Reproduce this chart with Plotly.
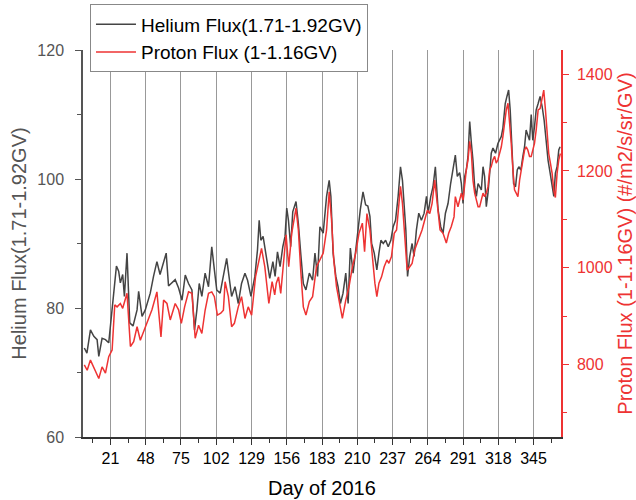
import plotly.graph_objects as go

# Helium flux (1.71-1.92 GV), day of 2016
he_day = [1, 3, 5.7, 8.3, 10.8, 12.1, 14.6, 17.2, 19.7, 23.5, 25.6, 27.3, 28.6, 30.4, 31.7, 33.7,
          35.8, 38.3, 41.4, 42.6, 45.2, 47.7, 51.5, 54, 56.6, 59, 63.7, 65.5, 70.6, 73.2,
          75.8, 78.3, 80.8, 83.4, 85.4, 87.2, 89, 91, 93.5, 96.1, 98.6, 100.6, 102.4, 105,
          107.5, 110, 111.8, 113.8, 116.4, 118.9, 121.4, 124, 126, 128.6, 131.6, 133.6, 134.9,
          136.2, 137.9, 140.5, 143, 145.4, 147.1, 148.9, 150.9, 153, 154.7, 156, 157.3, 159,
          160.6, 163.1, 164.9, 166.7, 168.7, 170.7, 173.3, 175.8, 177.6, 179.6, 181.4, 183.9,
          186.5, 188.5, 189.8, 191.5, 193.6, 195.3, 197.1, 199.1, 201.2, 203, 204.7, 206.8,
          208.8, 210.6, 212.3, 214.4, 216.4, 218.1, 219.7, 221, 223, 225, 226.6, 228.1, 229.9,
          231.7, 233.7, 235.7, 237.5, 239.3, 241.3, 243.1, 244.6, 245.9, 247.2, 248.5, 250.2,
          252, 253.5, 255.3, 257.1, 259.1, 261.2, 263, 264.2, 266.3, 268, 269.8, 271.9, 273.9,
          275.7, 277.5, 279.5, 281.5, 283.3, 285.1, 286.6, 288.4, 289.7, 291, 292.3, 293.5,
          294.8, 296.1, 297.4, 298.6, 299.9, 301.2, 302.5, 303.7, 305, 306.3, 307.5, 308.8,
          310.1, 311.4, 312.6, 313.9, 315.9, 317.7, 319, 320.3, 321.5, 323.3, 324.6, 325.9,
          327.1, 328.4, 329.7, 331.2, 332.5, 333.7, 335.3, 336.8, 338.1, 339.3, 340.6, 341.9,
          343.2, 344.4, 345.7, 347, 348.5, 350, 351.6, 353.1, 354.6, 356.1, 357.7, 359.2,
          360.5, 361.7, 363, 364.3, 365.3]
he_flux = [73.8, 73.0, 76.6, 75.6, 75.1, 72.5, 75.3, 75.1, 74.6, 82.8, 86.5, 85.7, 83.9, 85.2, 81.8, 88.5,
           77.7, 77.2, 79.7, 82.6, 78.7, 79.7, 82.3, 84.9, 87.2, 85.2, 88.5, 83.4, 84.4, 83.1,
           81.2, 85.1, 83.8, 82.8, 76.6, 79.7, 83.8, 81.8, 85.4, 83.3, 89.5, 85.9, 82.8, 82.3,
           84.9, 87.7, 84.9, 81.8, 83.3, 80.7, 83.8, 85.4, 84.3, 81.8, 84.9, 89.0, 93.6,
           90.5, 91.1, 87.4, 84.6, 87.2, 84.9, 88.7, 86.4, 89.5, 91.1, 95.5, 93.6, 89.5,
           94.9, 96.5, 93.1, 88.5, 83.8, 82.8, 85.4, 84.3, 88.5, 84.9, 92.6, 91.6,
           97.3, 99.8, 97.3, 88.5, 84.9, 83.3, 80.7, 82.3, 85.4, 80.7, 89.3, 85.4,
           88.5, 92.1, 95.2, 98.0, 96.0, 95.8, 94.2, 90.0, 88.5, 85.9, 88.5, 90.5, 90.0,
           90.5, 89.5, 90.5, 92.6, 93.6, 97.3, 101.9, 99.8, 96.2, 92.1, 84.9, 88.0,
           90.0, 88.0, 92.1, 94.7, 93.6, 94.7, 97.3, 94.7, 97.3, 98.8, 101.9, 95.2, 92.6,
           91.6, 94.7, 96.2, 99.3, 101.9, 103.7, 100.4, 101.0, 99.3, 96.2, 100.4, 101.4,
           103.5, 108.9, 105.5, 102.9, 98.8, 97.3, 99.3, 98.8, 98.3, 101.9, 100.4, 95.7,
           97.8, 100.9, 104.0, 104.8, 104.0, 105.5, 106.0, 106.6, 107.9, 111.7, 112.8, 113.8,
           110.7, 105.5, 99.3, 98.8, 101.4, 101.9, 101.4, 103.5, 105.0, 107.6, 106.6, 106.0,
           110.0, 106.0, 108.1, 110.7, 111.7, 112.8, 111.2, 109.1, 106.0, 102.9, 100.9, 99.3,
           97.3, 100.9, 101.9, 104.5, 105.0]

# Proton flux (1-1.16 GV)
p_day = [1, 3.2, 5.7, 8.3, 12.1, 14.6, 17.2, 19.7, 22.3, 24.3, 26.1, 28.6, 30.4, 33.7, 36.3, 38.8,
         41.4, 43.9, 46.4, 49, 52.8, 56.6, 59.7, 61.7, 64.3, 66.8, 70.6, 73.2, 75.3, 77.8, 80.8,
         83.4, 85.9, 88.5, 91, 93.5, 96.1, 98.6, 100.6, 102.9, 105.5, 107.5, 108.8, 111.3, 113.8,
         115.9, 118.9, 121.4, 124, 126.5, 129.1, 132.1, 134.1, 136.7, 139.2, 142.3, 144.8, 146.8,
         148, 149.7, 151.4, 153.5, 155.5, 157.5, 159.8, 163.1, 164.9, 166.7, 168.7, 170.7, 173.3,
         175.8, 178.8, 181.4, 183.9, 186.5, 188.5, 190.3, 192, 194.1, 196.6, 198.6, 201.2, 203.7,
         206.3, 208.8, 211.3, 213.9, 215.6, 217.4, 219.7, 221, 222.2, 223.5, 225, 226.6, 228.6,
         230.6, 232.7, 234.2, 236.2, 238.3, 240.1, 241.8, 243.1, 244.6, 246.4, 248.2, 250.2, 252,
         254, 256.1, 257.9, 259.6, 261.7, 263.7, 265.5, 267.3, 269.3, 271.4, 273.4, 275.7, 278.2,
         280, 282, 284.1, 285.1, 287.1, 289.7, 291, 292.3, 293.5, 294.8, 296.1, 297.4, 298.6,
         299.9, 301.2, 302.5, 303.7, 305, 306.3, 307.5, 308.8, 310.1, 311.4, 312.6, 313.9, 315.2,
         316.4, 317.7, 319, 320.3, 321.5, 322.8, 324.1, 325.4, 326.6, 327.9, 329.2, 330.4, 331.7,
         333, 334.3, 335.5, 336.8, 338.1, 339.3, 340.6, 341.9, 343.2, 344.4, 345.7, 347, 348.5,
         350, 351.6, 352.8, 354.1, 355.4, 356.6, 357.9, 359.2, 360.5, 361.7, 363, 364.3, 365.5]
p_flux = [799, 788, 809, 792, 771, 795, 782, 816, 830, 923, 919, 926, 916, 947, 837, 847,
          878, 850, 868, 885, 913, 950, 857, 933, 926, 892, 926, 913, 885, 919, 950,
          947, 854, 881, 864, 912, 947, 950, 940, 902, 906, 912, 971, 940, 878,
          885, 919, 940, 895, 919, 902, 981, 1009, 1040, 1002, 926, 971, 944,
          968, 981, 947, 1002, 1068, 1002, 1071, 1123, 1078, 995, 919, 902, 930,
          940, 1002, 1016, 1030, 1078, 1157, 1099, 1016, 961, 919, 895, 933, 961,
          1002, 1030, 1071, 1092, 1033, 1112, 1078, 1037, 995, 968, 940, 968, 981,
          1002, 1016, 1009, 1023, 1071, 1078, 1133, 1168, 1133, 1064, 995, 1002, 1009,
          1037, 1051, 1064, 1078, 1099, 1119, 1112, 1133, 1181, 1133, 1078, 1071, 1051,
          1071, 1085, 1105, 1147, 1126, 1154, 1140, 1174, 1202, 1223, 1261, 1236, 1181,
          1154, 1140, 1126, 1126, 1140, 1154, 1147, 1154, 1167, 1202, 1209, 1223, 1230,
          1216, 1223, 1236, 1250, 1271, 1298, 1326, 1340, 1305, 1257, 1202, 1161, 1154,
          1147, 1181, 1202, 1223, 1243, 1250, 1243, 1230, 1230, 1243, 1257, 1285, 1326,
          1329, 1347, 1367, 1326, 1278, 1236, 1216, 1195, 1160, 1145, 1195, 1223, 1236]

x_ticks = [21, 48, 75, 102, 129, 156, 183, 210, 237, 264, 291, 318, 345]
x_title = "Day of 2016"

GRAY = "#444444"
AXGRAY = "#555555"
RED = "#EE3333"
FONT = "Liberation Sans, Arial, sans-serif"

fig = go.Figure()
fig.add_trace(go.Scatter(x=he_day, y=he_flux, mode="lines", name="Helium Flux(1.71-1.92GV)",
                         line=dict(color=GRAY, width=1.5)))
fig.add_trace(go.Scatter(x=p_day, y=p_flux, mode="lines", name="Proton Flux (1-1.16GV)",
                         line=dict(color=RED, width=1.5), yaxis="y2"))

fig.update_layout(
    width=636, height=500,
    margin=dict(l=83, r=75, t=50, b=63, autoexpand=False),
    paper_bgcolor="white", plot_bgcolor="white",
    font=dict(family=FONT, size=16, color="black"),
    showlegend=True,
    legend=dict(x=0.0146, y=1.118, xanchor="left", yanchor="top",
                bgcolor="white", bordercolor="#888888", borderwidth=1,
                font=dict(size=19, color="black"), tracegroupgap=0,
                itemwidth=40),
    xaxis=dict(range=[0, 366], tickmode="array", tickvals=x_ticks, automargin=False,
               ticks="outside", ticklen=6, tickcolor="#333", tickwidth=1,
               showline=True, linecolor="#333", linewidth=1.5,
               showgrid=True, gridcolor="#999999", gridwidth=1, zeroline=False,
               tickfont=dict(size=16, color="black"),
               minor=dict(tickmode="array", tickvals=[7.5 + 27 * k for k in range(14)],
                          ticks="outside", ticklen=4, tickcolor="#333", showgrid=False)),
    yaxis=dict(range=[60, 120], tickvals=[60, 80, 100, 120], automargin=False,
               ticks="outside", ticklen=6, tickcolor=AXGRAY, tickwidth=1,
               showline=True, linecolor=AXGRAY, linewidth=1.5, ticklabelstandoff=8,
               showgrid=False, zeroline=False,
               tickfont=dict(size=16, color=AXGRAY),
               minor=dict(tickvals=[70, 90, 110], ticks="outside", ticklen=4, tickcolor=AXGRAY),
               title=dict(text="Helium Flux(1.71-1.92GV)", font=dict(size=20, color=AXGRAY), standoff=5)),
    yaxis2=dict(range=[650, 1450], tickvals=[800, 1000, 1200, 1400], overlaying="y", side="right",
                automargin=False, ticklabelstandoff=5,
                ticks="outside", ticklen=6, tickcolor=RED, tickwidth=1,
                showline=True, linecolor=RED, linewidth=1.5,
                showgrid=False, zeroline=False,
                tickfont=dict(size=16, color=RED),
                minor=dict(tickvals=[700, 900, 1100, 1300], ticks="outside", ticklen=4, tickcolor=RED),
                title=dict(text="Proton Flux (1-1.16GV) (#/m2/s/sr/GV)", font=dict(size=20, color=RED),
                           standoff=6)),
    annotations=[dict(text=x_title, xref="paper", yref="paper", x=0.499, y=-0.132,
                      xanchor="center", yanchor="middle", showarrow=False,
                      font=dict(size=20, color="black"))],
)

fig.write_html("out.html")
